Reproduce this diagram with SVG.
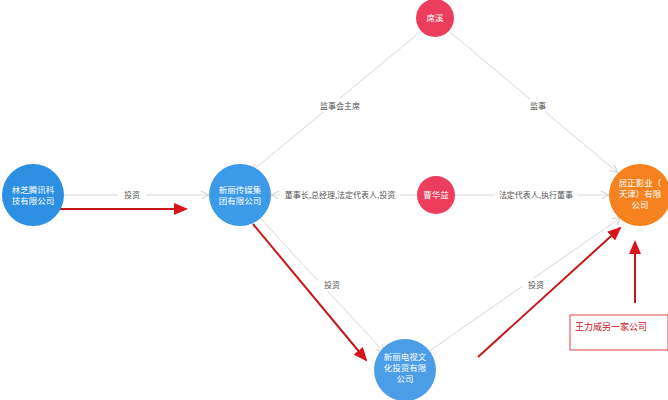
<svg xmlns="http://www.w3.org/2000/svg" width="668" height="400" viewBox="0 0 668 400">
<style>
text{font-family:"Noto Sans CJK SC","Noto Sans",sans-serif}
.n{fill:#fff;font-size:8.5px;text-anchor:middle}
.l{fill:#555;font-size:8px;text-anchor:middle}
.e{stroke:#d8d8d8;stroke-width:1;fill:none;marker-end:url(#g)}
.r{stroke:#c8161d;stroke-width:2;fill:none;marker-end:url(#rd)}
</style>
<defs>
<marker id="g" markerWidth="8" markerHeight="8" refX="7" refY="4" orient="auto" markerUnits="userSpaceOnUse"><path d="M0,0L8,4L0,8" fill="none" stroke="#ccc"/></marker>
<marker id="rd" markerWidth="14" markerHeight="12" refX="12" refY="6" orient="auto" markerUnits="userSpaceOnUse"><path d="M0,0L14,6L0,12z" fill="#d9151c"/></marker>
</defs>
<rect width="668" height="400" fill="#fff"/>
<g id="edges">
<path class="e" d="M64,195H208"/><rect x="118" y="188" width="28" height="13" fill="#fff"/><text class="l" x="132" y="198">投资</text>
<path class="e" d="M417,195H272"/><rect x="280" y="188" width="120" height="13" fill="#fff"/><text class="l" x="340" y="198">董事长,总经理,法定代表人,投资</text>
<path class="e" d="M455,195H608"/><rect x="495" y="188" width="82" height="13" fill="#fff"/><text class="l" x="536" y="198">法定代表人,执行董事</text>
<path class="e" d="M420,32L252,171"/><rect x="312" y="99" width="56" height="13" fill="#fff"/><text class="l" x="340" y="109">监事会主席</text>
<path class="e" d="M450,32L617,172"/><rect x="525" y="99" width="26" height="13" fill="#fff"/><text class="l" x="538" y="109">监事</text>
<path class="e" d="M260,218L384,352"/><rect x="318" y="278" width="28" height="13" fill="#fff"/><text class="l" x="332" y="288">投资</text>
<path class="e" d="M428,352L620,218"/><rect x="522" y="278" width="28" height="13" fill="#fff"/><text class="l" x="536" y="288">投资</text>
</g>
<g id="red">
<path class="r" d="M60,209H186"/>
<path class="r" d="M253,224L366,360"/>
<path class="r" d="M478,357L620,228"/>
<path class="r" d="M635,303V242"/>
<rect x="570" y="315" width="98" height="35" fill="#fff" stroke="#d9454a"/>
<text x="575" y="330" font-size="9" fill="#c8161d">王力威另一家公司</text>
</g>
<g id="n1"><circle cx="33" cy="195" r="31" fill="#2d8fe1"/><text class="n" x="33" y="193">林芝腾讯科</text><text class="n" x="33" y="204">技有限公司</text></g>
<g id="n2"><circle cx="240" cy="195" r="31" fill="#3d9ae8"/><text class="n" x="240" y="193">新丽传媒集</text><text class="n" x="240" y="204">团有限公司</text></g>
<g id="n3"><circle cx="436" cy="195" r="19" fill="#ec3e5c"/><text class="n" x="436" y="198">曹华益</text></g>
<g id="n4"><circle cx="435" cy="18" r="19" fill="#ec3e5c"/><text class="n" x="435" y="21">席溪</text></g>
<g id="n5"><circle cx="640" cy="195" r="31" fill="#f5821f"/><text class="n" x="640" y="186">居正影业（</text><text class="n" x="640" y="197">天津）有限</text><text class="n" x="640" y="208">公司</text></g>
<g id="n6"><circle cx="405" cy="370" r="31" fill="#4a9de6"/><text class="n" x="405" y="360">新丽电视文</text><text class="n" x="405" y="371">化投资有限</text><text class="n" x="405" y="382">公司</text></g>
</svg>
